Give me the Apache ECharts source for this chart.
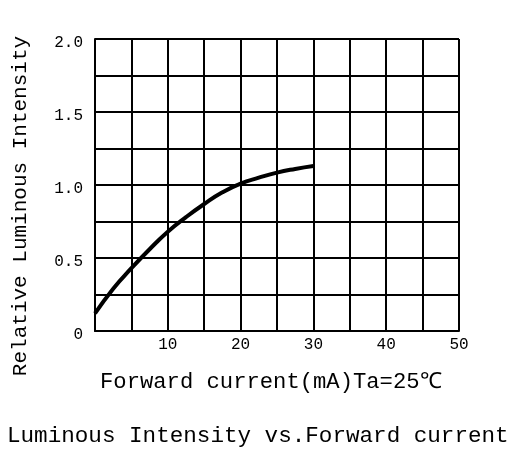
<!DOCTYPE html>
<html>
<head>
<meta charset="utf-8">
<script src="https://cdn.jsdelivr.net/npm/echarts@6/dist/echarts.min.js"></script>
<style>html,body{margin:0;padding:0;background:#fff}#c{width:513px;height:450px}</style>
</head>
<body>
<div id="c"></div>
<script>
const currents = [0, 2.5, 5, 7.5, 10, 12.5, 15, 17.5, 20, 22.5, 25, 27.5, 30];
const intensity = [0.12, 0.29, 0.43, 0.56, 0.68, 0.78, 0.87, 0.95, 1.01, 1.05, 1.085, 1.11, 1.13];
const xTickLabels = [10, 20, 30, 40, 50];
const yTickLabels = ['0', '0.5', '1.0', '1.5', '2.0'];
const xTitle = 'Forward current(mA)Ta=25℃';
const yTitle = 'Relative Luminous Intensity';
const chartTitle = 'Luminous Intensity vs.Forward current';

const font = '"Liberation Mono", "DejaVu Sans Mono", monospace';
const chart = echarts.init(document.getElementById('c'));
chart.setOption({
  animation: false,
  backgroundColor: '#fff',
  grid: { left: 95, right: 54, top: 39, bottom: 119, containLabel: false },
  title: [
    { text: xTitle, left: 100, top: 371, textStyle: { fontFamily: font, fontSize: 22.2, fontWeight: 'normal', color: '#000' }, padding: 0 },
    { text: chartTitle, left: 7, top: 425, textStyle: { fontFamily: font, fontSize: 22.6, fontWeight: 'normal', color: '#000' }, padding: 0 }
  ],
  graphic: [{
    type: 'text',
    rotation: Math.PI / 2,
    x: 20, y: 206,
    style: { text: yTitle, font: '21px ' + font, fill: '#000', textAlign: 'center', textVerticalAlign: 'middle' }
  }],
  xAxis: {
    type: 'value', min: 0, max: 50, interval: 5,
    axisLine: { show: true, lineStyle: { color: '#000', width: 2 } },
    axisTick: { show: false },
    splitLine: { show: true, lineStyle: { color: '#000', width: 2 } },
    axisLabel: {
      color: '#000', fontFamily: font, fontSize: 16, margin: 6,
      formatter: v => xTickLabels.includes(v) ? String(v) : ''
    }
  },
  yAxis: {
    type: 'value', min: 0, max: 2, interval: 0.25,
    axisLine: { show: true, lineStyle: { color: '#000', width: 2 } },
    axisTick: { show: false },
    splitLine: { show: true, lineStyle: { color: '#000', width: 2 } },
    axisLabel: {
      color: '#000', fontFamily: font, fontSize: 16, margin: 12,
      rich: { a: { fontFamily: font, fontSize: 16, color: '#000', padding: [7, 0, 0, 0] } },
      formatter: v => {
        const i = Math.round(v / 0.5);
        return Math.abs(v - i * 0.5) < 1e-6 ? '{a|' + yTickLabels[i] + '}' : '';
      }
    }
  },
  series: [{
    type: 'line', smooth: true, symbol: 'none',
    data: currents.map((c, i) => [c, intensity[i]]),
    lineStyle: { color: '#000', width: 4 }
  }]
});
</script>
</body>
</html>
